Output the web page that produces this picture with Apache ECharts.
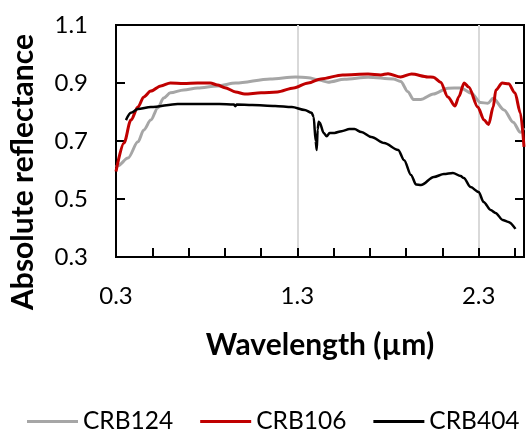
<!DOCTYPE html>
<html>
<head>
<meta charset="utf-8">
<script src="https://cdn.jsdelivr.net/npm/echarts@6/dist/echarts.min.js"></script>
<style>
html,body{margin:0;padding:0;background:#fff;}
#chart{width:532px;height:429px;}
</style>
</head>
<body>
<div id="chart"></div>
<script>
// ---- Data ----
var seriesNames = ['CRB124', 'CRB106', 'CRB404'];

var crb124X = [0.30,0.311,0.366,0.421,0.453,0.492,0.53,0.563,0.60,0.673,0.75,0.86,0.96,1.15,1.29,1.36,1.42,1.47,1.56,1.69,1.83,1.87,1.91,1.94,1.98,2.05,2.13,2.20,2.26,2.31,2.35,2.38,2.44,2.49,2.53,2.55];
var crb124Y = [0.610,0.615,0.641,0.697,0.738,0.772,0.814,0.848,0.866,0.876,0.883,0.890,0.900,0.914,0.921,0.918,0.910,0.903,0.913,0.920,0.914,0.905,0.870,0.843,0.843,0.862,0.882,0.883,0.865,0.833,0.830,0.847,0.807,0.765,0.730,0.745];

var crb106X = [0.30,0.344,0.382,0.421,0.453,0.492,0.547,0.60,0.673,0.75,0.82,0.86,0.90,0.96,1.01,1.10,1.19,1.28,1.36,1.43,1.55,1.69,1.76,1.80,1.87,1.93,2.02,2.05,2.09,2.13,2.17,2.19,2.22,2.245,2.295,2.33,2.355,2.38,2.395,2.43,2.465,2.50,2.53,2.55];
var crb106Y = [0.595,0.693,0.772,0.817,0.852,0.872,0.890,0.900,0.898,0.900,0.900,0.893,0.884,0.869,0.862,0.866,0.869,0.883,0.900,0.914,0.928,0.931,0.928,0.932,0.921,0.931,0.921,0.920,0.903,0.852,0.821,0.852,0.900,0.886,0.817,0.772,0.757,0.817,0.876,0.900,0.897,0.866,0.797,0.680];

var crb404X = [0.355,0.382,0.421,0.492,0.64,0.87,0.95,0.958,0.966,1.051,1.177,1.27,1.341,1.379,1.39,1.401,1.407,1.412,1.418,1.423,1.445,1.462,1.478,1.505,1.544,1.588,1.615,1.653,1.708,1.779,1.856,1.889,1.927,1.955,1.982,2.053,2.108,2.158,2.201,2.218,2.256,2.30,2.327,2.366,2.393,2.432,2.464,2.503];
var crb404Y = [0.772,0.797,0.810,0.817,0.828,0.828,0.826,0.820,0.826,0.824,0.821,0.817,0.807,0.797,0.783,0.700,0.669,0.740,0.766,0.764,0.728,0.716,0.728,0.728,0.734,0.741,0.741,0.731,0.714,0.693,0.669,0.634,0.583,0.550,0.548,0.576,0.586,0.590,0.579,0.572,0.541,0.524,0.490,0.462,0.452,0.428,0.421,0.397];

var seriesColors = ['#A6A6A6', '#C00000', '#000000'];

var xMin = 0.3, xMax = 2.55, xMajor = 1.0, xMinor = 0.2;
var yMin = 0.3, yMax = 1.1, yStep = 0.2;

function zip(xs, ys) { return xs.map(function (x, i) { return [x, ys[i]]; }); }

var FONT = 'Lato, "Liberation Sans", Arial, sans-serif';

var chart = echarts.init(document.getElementById('chart'), null, { renderer: 'canvas' });

var dataSets = [zip(crb124X, crb124Y), zip(crb106X, crb106Y), zip(crb404X, crb404Y)];
var widths = [3, 3, 2.5];

chart.setOption({
  animation: false,
  backgroundColor: '#fff',
  grid: {
    left: 113, right: 8, top: 25, bottom: 172,
    show: true, borderColor: '#000', borderWidth: 2, backgroundColor: 'transparent'
  },
  legend: {
    left: 22, top: 404,
    itemWidth: 51, itemHeight: 3, itemGap: 27,
    icon: 'rect',
    textStyle: { fontFamily: FONT, fontSize: 24.5, color: '#000' },
    data: seriesNames
  },
  xAxis: [
    {
      type: 'value', position: 'bottom', min: xMin, max: xMax, interval: xMajor,
      name: 'Wavelength (µm)', nameLocation: 'middle', nameGap: 73,
      nameTextStyle: { fontFamily: FONT, fontSize: 30, fontWeight: 'bold', color: '#000' },
      axisLine: { show: true, lineStyle: { color: '#000', width: 2 } },
      axisTick: { show: false },
      axisLabel: {
        fontFamily: FONT, fontSize: 24, color: '#000', margin: 27,
        showMaxLabel: false,
        formatter: function (v) { return v > 2.4 ? '' : v.toFixed(1); }
      },
      splitLine: { show: true, lineStyle: { color: '#D9D9D9', width: 2 } }
    },
    {
      type: 'value', position: 'bottom', min: xMin, max: xMax, interval: xMinor,
      axisLine: { show: false },
      axisTick: { show: true, inside: true, length: 9, lineStyle: { color: '#000', width: 2 } },
      axisLabel: { show: false },
      splitLine: { show: false }
    }
  ],
  yAxis: [
    {
      type: 'value', position: 'left', min: yMin, max: yMax, interval: yStep,
      name: 'Absolute reflectance', nameLocation: 'middle', nameGap: 78,
      nameTextStyle: { fontFamily: FONT, fontSize: 30, fontWeight: 'bold', color: '#000', padding: [0, 62, 0, 0] },
      axisLine: { show: true, lineStyle: { color: '#000', width: 2 } },
      axisTick: { show: true, inside: true, length: 9, lineStyle: { color: '#000', width: 2 } },
      axisLabel: { fontFamily: FONT, fontSize: 24, color: '#000', margin: 28, formatter: function (v) { return v.toFixed(1); } },
      splitLine: { show: false }
    },
    {
      type: 'value', position: 'right', min: yMin, max: yMax, interval: yStep,
      axisLine: { show: true, lineStyle: { color: '#000', width: 2 } },
      axisTick: { show: true, inside: true, length: 9, lineStyle: { color: '#000', width: 2 } },
      axisLabel: { show: false },
      splitLine: { show: false }
    }
  ],
  series: seriesNames.map(function (name, i) {
    return {
      name: name, type: 'line', xAxisIndex: 0, yAxisIndex: 0,
      data: dataSets[i], showSymbol: false, symbol: 'none',
      smooth: 0.3, smoothMonotone: 'x',
      lineStyle: { color: seriesColors[i], width: widths[i] },
      itemStyle: { color: seriesColors[i] },
      z: 3 + i
    };
  })
});
</script>
</body>
</html>
